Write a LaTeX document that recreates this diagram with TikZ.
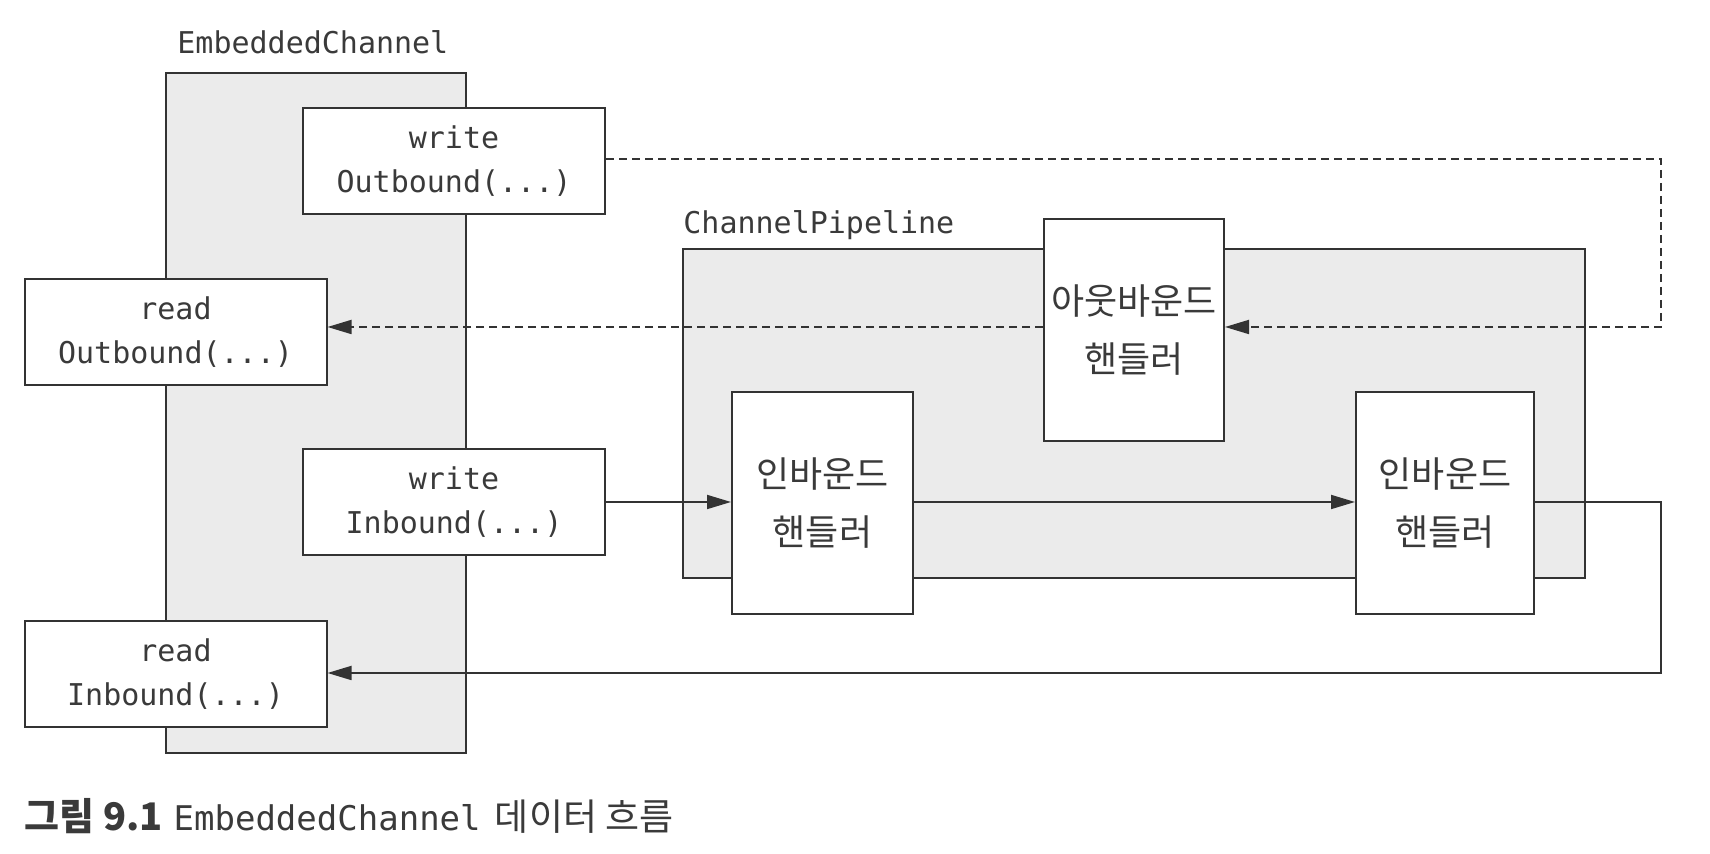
\documentclass[tikz,border=0pt]{standalone}
\usepackage{fontspec}
\setmonofont{DejaVu Sans Mono}
\newfontfamily\krfont{Noto Sans CJK KR}
\usepackage{tikz}
\usetikzlibrary{arrows.meta, positioning, calc}
\usepackage{xcolor}

\definecolor{linegray}{HTML}{333333}
\definecolor{panelgray}{HTML}{EBEBEB}
\definecolor{textgray}{HTML}{3A3A3A}

\tikzset{
  panel/.style={draw=linegray, line width=1pt, fill=panelgray, inner sep=0pt},
  callbox/.style={draw=linegray, line width=1pt, fill=white, align=center,
    text=textgray, minimum width=151pt, minimum height=53pt,
    font=\ttfamily\fontsize{15}{22}\selectfont},
  handler/.style={draw=linegray, line width=1pt, fill=white, align=center,
    text=textgray, minimum width=90pt, minimum height=111pt,
    font=\krfont\fontsize{18}{29}\selectfont},
  paneltitle/.style={anchor=west, inner sep=0pt, text=textgray,
    font=\ttfamily\fontsize{15}{18}\selectfont},
  flow/.style={draw=linegray, line width=0.9pt, -{Triangle[length=12pt,width=7pt]}},
  dflow/.style={flow, dash pattern=on 4pt off 2.5pt}
}

\begin{document}
\begin{tikzpicture}[x=0.5pt, y=-0.5pt]
  \useasboundingbox (0,0) rectangle (1710,854);

  % containers
  \node[panel, minimum width=150pt, minimum height=340pt] (embch) at (316,413) {};
  \node[paneltitle] (embchtitle) at (177,42) {EmbeddedChannel};
  \node[panel, minimum width=451pt, minimum height=164.5pt] (pipe) at (1134,413.5) {};
  \node[paneltitle] (pipetitle) at (683,225) {ChannelPipeline};

  % EmbeddedChannel methods
  \node[callbox] (writeout) at (454,161) {write\\Outbound(...)};
  \node[callbox] (readout) at (175.5,332) {read\\Outbound(...)};
  \node[callbox] (writein) at (454,502) {write\\Inbound(...)};
  \node[callbox] (readin) at (175.5,674) {read\\Inbound(...)};

  % handlers
  \node[handler] (outhandler) at (1134,330) {아웃바운드\\핸들러};
  \node[handler, minimum width=90.5pt] (inhandlerA) at (822.5,503) {인바운드\\핸들러};
  \node[handler, minimum width=89pt] (inhandlerB) at (1445,503) {인바운드\\핸들러};

  % turning points on the right
  \coordinate (outtop) at (1661,159);
  \coordinate (outmid) at (1661,327);
  \coordinate (intop) at (1661,502);
  \coordinate (inbot) at (1661,673);

  % outbound flow
  \draw[dflow] (writeout.east |- outtop) -- (outtop) -- (outmid) -- (outhandler.east |- outmid);
  \draw[dflow] (outhandler.west |- outmid) -- (outmid -| readout.east);

  % inbound flow
  \draw[flow] (writein.east |- intop) -- (inhandlerA.west |- intop);
  \draw[flow] (inhandlerA.east |- intop) -- (inhandlerB.west |- intop);
  \draw[flow] (inhandlerB.east |- intop) -- (intop) -- (inbot) -- (readin.east |- inbot);

  % caption
  \node[anchor=west, inner sep=0pt, text=textgray] (caption) at (24,816)
    {{\krfont\bfseries\fontsize{19}{22}\selectfont 그림 9.1}\hspace{5.5pt}%
     {\ttfamily\fontsize{17}{20}\selectfont EmbeddedChannel}\hspace{3pt}%
     {\krfont\fontsize{18.5}{20}\selectfont\ 데이터 흐름}};
\end{tikzpicture}
\end{document}
